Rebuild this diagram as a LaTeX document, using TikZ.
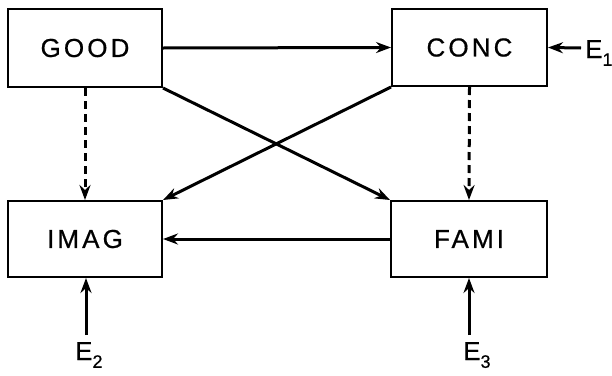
\documentclass[tikz,border=0pt]{standalone}
\usepackage{fontspec}
\setmainfont{Liberation Sans}
\newfontfamily\spaced[LetterSpace=12,FakeBold=0.6]{Liberation Sans}
\newfontfamily\lblfont[FakeBold=0.6]{Liberation Sans}
\usetikzlibrary{arrows.meta}
\newcommand\mysub[1]{\raisebox{-0.3em}{\fontsize{18}{18}\selectfont #1}}
\begin{document}
\begin{tikzpicture}[x=1pt,y=-1pt,
  box/.style={draw,line width=2pt,minimum width=#1,inner sep=0pt,font=\fontsize{26}{26}\selectfont\spaced},
  arr/.style={line width=3pt,-{Stealth[length=15pt,width=11pt,inset=5pt]}},
  darr/.style={arr,dash pattern=on 8pt off 5pt},
  lbl/.style={inner sep=0pt,font=\fontsize{26}{26}\selectfont\lblfont}]
\useasboundingbox (0,0) rectangle (612,375);
\node[box=154pt,minimum height=78pt] (good) at (85,48) {GOOD};
\node[box=155pt,minimum height=77pt] (conc) at (469.5,47.5) {CONC};
\node[box=154pt,minimum height=76pt] (imag) at (85,239) {IMAG};
\node[box=156pt,minimum height=76pt] (fami) at (469,239) {FAMI};
\node[lbl,anchor=base west] (e1) at (585,58) {E\mysub{1}};
\node[lbl,anchor=base west] (e2) at (75,360) {E\mysub{2}};
\node[lbl,anchor=base west] (e3) at (463,360) {E\mysub{3}};
\coordinate (t1) at (581,48);
\coordinate (t2) at (86,335);
\coordinate (t3) at (469,335);
\draw[arr] (good.east) -- (conc.west);
\draw[arr] (good.south east) -- (fami.north west);
\draw[arr] (conc.south west) -- (imag.north east);
\draw[arr] (fami.west) -- (imag.east);
\draw[darr] (good.south) -- (imag.north);
\draw[darr] (conc.south) -- (fami.north);
\draw[arr] (t1) -- (conc.east);
\draw[arr] (t2) -- (imag.south -| t2);
\draw[arr] (t3) -- (fami.south -| t3);
\end{tikzpicture}
\end{document}
